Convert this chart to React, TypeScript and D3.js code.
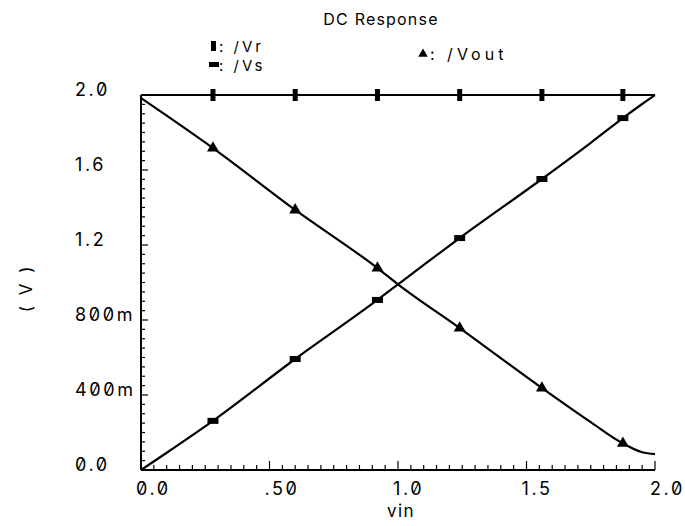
import React from "react";
import * as d3 from "d3";

// Swept input voltage (vin) and the node voltages sampled along the sweep
const vinSamples = [0, 0.1, 0.28, 0.6, 0.92, 1.0, 1.24, 1.56, 1.75, 1.875, 1.95, 2.0];
const vrValues = [2.0, 2.0, 2.0, 2.0, 2.0, 2.0, 2.0, 2.0, 2.0, 2.0, 2.0, 2.0];
const vsValues = [0.0, 0.092, 0.262, 0.592, 0.907, 0.99, 1.237, 1.552, 1.745, 1.877, 1.952, 2.0];
const voutValues = [1.984, 1.89, 1.717, 1.387, 1.077, 0.99, 0.757, 0.437, 0.255, 0.142, 0.095, 0.085];

// vin positions where the trace markers sit
const markerVin = [0.28, 0.6, 0.92, 1.24, 1.56, 1.875];

const xTicksMajor = [0, 0.5, 1.0, 1.5, 2.0];
const xTickLabels = ["0.0", ".50", "1.0", "1.5", "2.0"];
const yTicksMajor = [0, 0.4, 0.8, 1.2, 1.6, 2.0];
const yTickLabels = ["0.0", "400m", "800m", "1.2", "1.6", "2.0"];

const W = 685;
const H = 526;
const FONT = "Inter, 'DejaVu Sans', sans-serif";
const NUM_STYLE: React.CSSProperties = {
  fontVariantNumeric: "slashed-zero",
  fontFeatureSettings: '"zero"',
};

export default function App() {
  const x = d3.scaleLinear().domain([0, 2]).range([141, 655]);
  const y = d3.scaleLinear().domain([0, 2]).range([470, 95]);

  const line = d3
    .line<number>()
    .x((_, i) => x(vinSamples[i]))
    .y((d) => y(d))
    .curve(d3.curveMonotoneX);

  const minor = d3.range(0, 41).map((i) => i * 0.05);
  const isMajor = (v: number) => Math.abs(v / 0.4 - Math.round(v / 0.4)) < 1e-6;
  const isMajorX = (v: number) => Math.abs(v / 0.5 - Math.round(v / 0.5)) < 1e-6;

  const interp = (vals: number[], v: number) => {
    const f = d3.scaleLinear().domain(vinSamples).range(vals);
    return f(v);
  };

  const tri = d3.symbol().type(d3.symbolTriangle).size(62)()!;
  const triSmall = d3.symbol().type(d3.symbolTriangle).size(40)()!;

  return (
    <svg
      width={W}
      height={H}
      style={{ position: "absolute", left: 0, top: 0, background: "#fff" }}
      fontFamily={FONT}
    >
      <rect width={W} height={H} fill="#fff" />
      {/* title */}
      <text x={381} y={25} textAnchor="middle" fontSize={16} letterSpacing={1.2} fill="#000">
        DC Response
      </text>

      {/* legend */}
      <g fontSize={15} letterSpacing={3} fill="#000">
        <rect x={211} y={41} width={5} height={10} fill="#000" />
        <text x={219} y={52}>: /Vr</text>
        <rect x={209} y={62} width={10} height={5} fill="#000" />
        <text x={219} y={71}>: /Vs</text>
        <path d={triSmall} transform={`translate(423,${54})`} fill="#000" />
        <text x={430} y={60} fontSize={16} letterSpacing={4}>: /Vout</text>
      </g>

      {/* y axis */}
      <line x1={x(0)} x2={x(0)} y1={y(2)} y2={y(0)} stroke="#000" strokeWidth={2} />
      {minor.map((v) => (
        <line
          key={"ym" + v}
          x1={x(0)}
          x2={x(0) + (isMajor(v) ? 7 : 4)}
          y1={y(v)}
          y2={y(v)}
          stroke="#000"
          strokeWidth={1.2}
        />
      ))}
      {yTicksMajor.map((v, i) => (
        <text
          key={"yl" + v}
          x={75}
          y={y(v) + 1}
          fontSize={18}
          letterSpacing={2.6}
          fill="#000"
          style={NUM_STYLE}
        >
          {yTickLabels[i]}
        </text>
      ))}

      {/* x axis */}
      <line x1={x(0)} x2={x(2)} y1={y(0)} y2={y(0)} stroke="#000" strokeWidth={2} />
      {minor.map((v) => (
        <line
          key={"xm" + v}
          x1={x(v)}
          x2={x(v)}
          y1={y(0)}
          y2={y(0) - (isMajorX(v) ? 9 : 5)}
          stroke="#000"
          strokeWidth={1.2}
        />
      ))}
      {xTicksMajor.map((v, i) => (
        <text
          key={"xl" + v}
          x={x(v) - 5}
          y={495}
          fontSize={18}
          letterSpacing={2.6}
          fill="#000"
          style={NUM_STYLE}
        >
          {xTickLabels[i]}
        </text>
      ))}

      {/* axis titles */}
      <text x={401} y={517} textAnchor="middle" fontSize={17} letterSpacing={1.5} fill="#000">
        vin
      </text>
      <text
        transform={`translate(32,${288}) rotate(-90)`}
        textAnchor="middle"
        fontSize={17}
        letterSpacing={3}
        fill="#000"
      >
        ( V )
      </text>

      {/* traces */}
      <path d={line(vrValues)!} fill="none" stroke="#000" strokeWidth={2.2} />
      <path d={line(vsValues)!} fill="none" stroke="#000" strokeWidth={2.2} />
      <path d={line(voutValues)!} fill="none" stroke="#000" strokeWidth={2.2} />

      {/* markers */}
      {markerVin.map((v) => (
        <rect
          key={"mr" + v}
          x={x(v) - 2.5}
          y={y(interp(vrValues, v)) - 6}
          width={5}
          height={12}
          fill="#000"
        />
      ))}
      {markerVin.map((v) => (
        <rect
          key={"ms" + v}
          x={x(v) - 5.5}
          y={y(interp(vsValues, v)) - 3}
          width={11}
          height={6}
          fill="#000"
        />
      ))}
      {markerVin.map((v) => (
        <path
          key={"mo" + v}
          d={tri}
          transform={`translate(${x(v)},${y(interp(voutValues, v))})`}
          fill="#000"
        />
      ))}
    </svg>
  );
}
